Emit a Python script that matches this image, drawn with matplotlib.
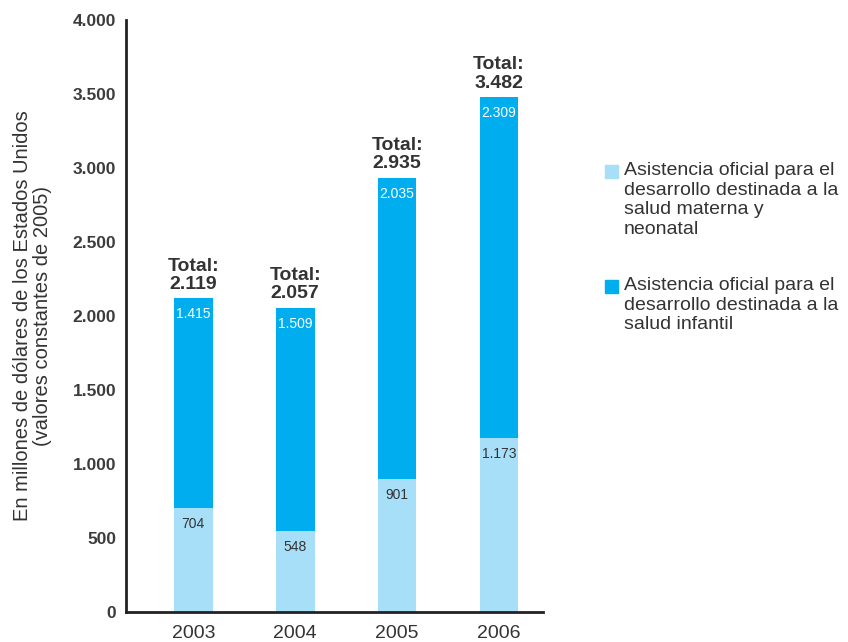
import matplotlib.pyplot as plt
from matplotlib.patches import Rectangle
import numpy as np

years = ['2003', '2004', '2005', '2006']
materna = [704, 548, 901, 1173]
infantil = [1415, 1509, 2035, 2309]
totals = [2119, 2057, 2935, 3482]
yticks = [0, 500, 1000, 1500, 2000, 2500, 3000, 3500, 4000]
legend_labels = ['Asistencia oficial para el\ndesarrollo destinada a la\nsalud materna y\nneonatal',
                 'Asistencia oficial para el\ndesarrollo destinada a la\nsalud infantil']

light = '#a8dff8'
cyan = '#00aeef'
dark = '#333333'

def fmt(v):
    return f'{v:,}'.replace(',', '.')

plt.rcParams['font.family'] = ['Liberation Sans', 'DejaVu Sans']

fig = plt.figure(figsize=(8.48, 6.42), dpi=100)
ax = fig.add_axes([0.1486, 0.0467, 0.4915, 0.922])

x = np.arange(len(years))
w = 0.38
ax.bar(x, materna, w, color=light)
ax.bar(x, infantil, w, bottom=materna, color=cyan)

for i in range(len(years)):
    ax.text(x[i], materna[i] - 108, fmt(materna[i]), ha='center', va='center', fontsize=10, color=dark)
    top = materna[i] + infantil[i]
    ax.text(x[i], top - 108, fmt(infantil[i]), ha='center', va='center', fontsize=10, color='white')
    ax.text(x[i], top + 35, 'Total:\n' + fmt(totals[i]), ha='center', va='bottom', fontsize=14,
            fontweight='bold', color=dark, linespacing=1.1)

ax.set_xlim(-0.66, 3.43)
ax.set_ylim(0, 4000)
ax.set_yticks(yticks)
ax.set_yticklabels([fmt(v) for v in yticks], fontsize=12.5, fontweight='bold', color='#3c3c3c')
ax.set_xticks(x)
ax.set_xticklabels(years, fontsize=14, color=dark)
ax.tick_params(length=0, pad=7)
ax.tick_params(axis='x', pad=9)
for s in ['top', 'right']:
    ax.spines[s].set_visible(False)
for s in ['left', 'bottom']:
    ax.spines[s].set_linewidth(2)
    ax.spines[s].set_color('#222222')

ax.set_ylabel('En millones de dólares de los Estados Unidos\n(valores constantes de 2005)', fontsize=14.5,
              color=dark, linespacing=1.05)
ax.yaxis.label.set_va('center')
ax.yaxis.set_label_coords(-0.225, 0.5)

# legend, square aligned with the first text line
leg_y = [171, 286]
for lab, col, yy in zip(legend_labels, [light, cyan], leg_y):
    fy = 1 - yy / 642
    fig.patches.append(Rectangle((605 / 848, fy - 7 / 642), 13 / 848, 13 / 642,
                                 transform=fig.transFigure, color=col, figure=fig))
    fig.text(624 / 848, fy + 9 / 642, lab, ha='left', va='top', fontsize=14, color=dark, linespacing=1.2)

fig.savefig('out.png', dpi=100)
